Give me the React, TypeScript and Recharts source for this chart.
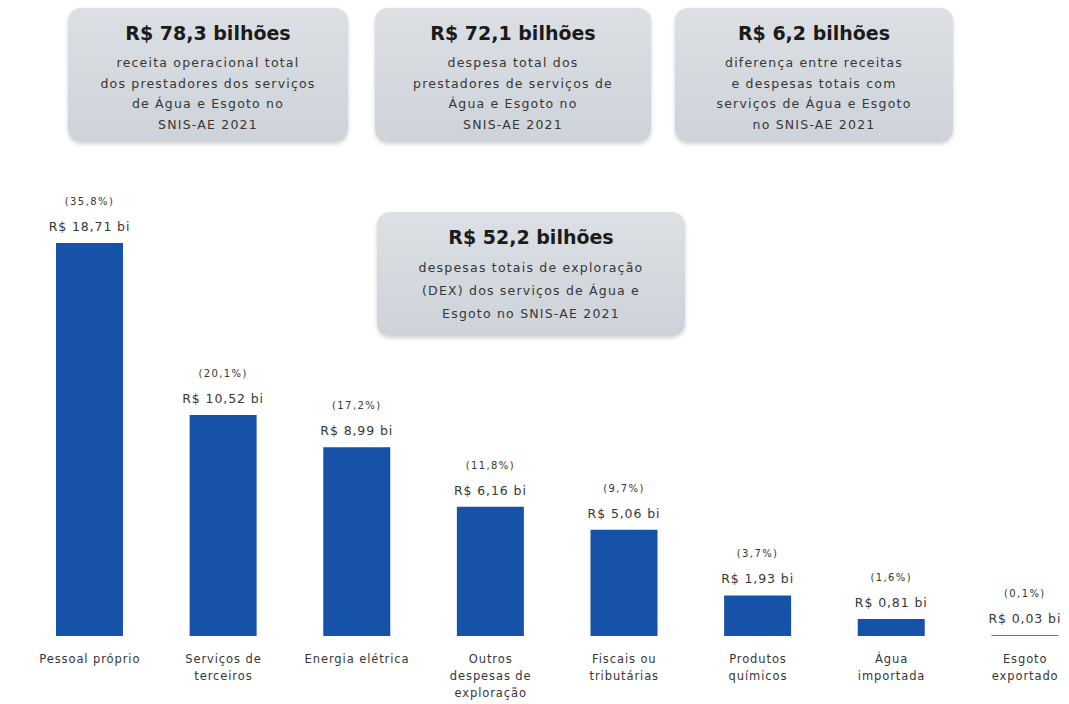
import { Bar, BarChart, LabelList, XAxis, YAxis } from "recharts";

const categories = [
  "Pessoal próprio",
  "Serviços de\nterceiros",
  "Energia elétrica",
  "Outros\ndespesas de\nexploração",
  "Fiscais ou\ntributárias",
  "Produtos\nquímicos",
  "Água\nimportada",
  "Esgoto\nexportado",
];
const values = [18.71, 10.52, 8.99, 6.16, 5.06, 1.93, 0.81, 0.03];
const shares = ["35,8", "20,1", "17,2", "11,8", "9,7", "3,7", "1,6", "0,1"];

const data = categories.map((name, i) => ({ name, value: values[i], share: shares[i] }));

const FONT = "'DejaVu Sans', sans-serif";
const TEXT = "#363636";
const BLUE = "#1552a8";

const boxes = [
  { x: 68, y: 8, w: 280, h: 134, lh: 20.5, gap: 7, title: "R$ 78,3 bilhões", lines: ["receita operacional total", "dos prestadores dos serviços", "de Água e Esgoto no", "SNIS-AE 2021"] },
  { x: 375, y: 8, w: 276, h: 134, lh: 20.5, gap: 7, title: "R$ 72,1 bilhões", lines: ["despesa total dos", "prestadores de serviços de", "Água e Esgoto no", "SNIS-AE 2021"] },
  { x: 675, y: 8, w: 278, h: 134, lh: 20.5, gap: 7, title: "R$ 6,2 bilhões", lines: ["diferença entre receitas", "e despesas totais com", "serviços de Água e Esgoto", "no SNIS-AE 2021"] },
  { x: 377, y: 212, w: 308, h: 124, lh: 23, gap: 6, title: "R$ 52,2 bilhões", lines: ["despesas totais de exploração", "(DEX) dos serviços de Água e", "Esgoto no SNIS-AE 2021"] },
];

function InfoBox({ x, y, w, h, lh, gap, title, lines }: any) {
  return (
    <div
      style={{
        position: "absolute",
        left: x,
        top: y,
        width: w,
        height: h,
        borderRadius: 13,
        background: "linear-gradient(180deg, #dce0e5 0%, #cdd3d9 100%)",
        boxShadow: "0 2px 4px rgba(0,0,0,0.18)",
        textAlign: "center",
        fontFamily: FONT,
        color: TEXT,
        paddingTop: 12,
        boxSizing: "border-box",
      }}
    >
      <div style={{ fontWeight: 700, fontSize: 19, color: "#1b1b1b", lineHeight: "26px", marginBottom: gap }}>
        {title}
      </div>
      {lines.map((l: string) => (
        <div key={l} style={{ fontSize: 12.5, letterSpacing: 1.2, lineHeight: `${lh}px` }}>
          {l}
        </div>
      ))}
    </div>
  );
}

function CatTick({ x, y, payload }: any) {
  const parts = String(payload.value).split("\n");
  return (
    <text x={x} y={y} textAnchor="middle" fontFamily={FONT} fontSize={11.5} letterSpacing={0.9} fill={TEXT}>
      {parts.map((p, i) => (
        <tspan key={i} x={x} dy={i === 0 ? 19 : 17}>
          {p}
        </tspan>
      ))}
    </text>
  );
}

function ValueLabel({ x, y, width, index }: any) {
  const cx = x + width / 2;
  const d = data[index];
  return (
    <g fontFamily={FONT} textAnchor="middle" fill={TEXT}>
      <text x={cx} y={y - 38} fontSize={10} letterSpacing={1.4}>
        ({d.share}%)
      </text>
      <text x={cx} y={y - 12} fontSize={12.5} letterSpacing={0.9} fontWeight={500}>
        R$ {d.value.toFixed(2).replace(".", ",")} bi
      </text>
    </g>
  );
}

export default function App() {
  return (
    <div
      style={{
        position: "absolute",
        left: 0,
        top: 0,
        width: 1069,
        height: 704,
        overflow: "hidden",
        background: "#ffffff",
      }}
    >
      <BarChart
        width={1092}
        height={704}
        data={data}
        margin={{ top: 216, right: 0, bottom: 0, left: 23 }}
      >
        <XAxis
          dataKey="name"
          height={68}
          axisLine={false}
          tickLine={false}
          interval={0}
          tick={<CatTick />}
        />
        <YAxis hide domain={[0, 20]} />
        <Bar dataKey="value" fill={BLUE} barSize={67} isAnimationActive={false}>
          <LabelList dataKey="value" content={<ValueLabel />} />
        </Bar>
      </BarChart>
      {boxes.map((b) => (
        <InfoBox key={b.title} {...b} />
      ))}
    </div>
  );
}
